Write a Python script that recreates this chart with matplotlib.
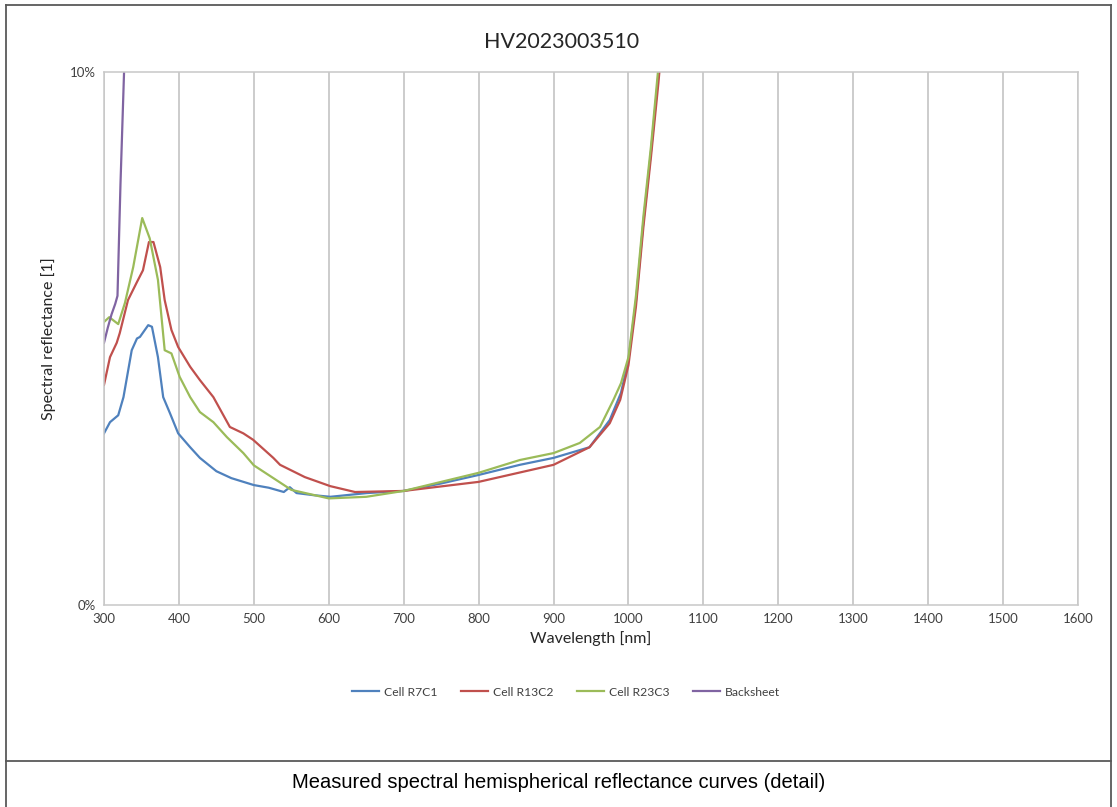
import numpy as np
import matplotlib as mpl
mpl.use('Agg')
import matplotlib.pyplot as plt
from matplotlib.lines import Line2D

plt.rcParams['font.family'] = ['Lato', 'DejaVu Sans']

# data (reflectance in %)
wl_r7c1 = [300, 308, 319, 326, 337, 344, 348, 359, 364, 372, 379, 388, 399, 415, 428,
           450, 470, 500, 520, 540, 548, 557, 580, 602, 651, 700, 750, 800, 855, 900,
           948, 975, 990, 1000, 1010, 1020, 1030, 1040, 1045]
r7c1 = [3.22, 3.43, 3.56, 3.9, 4.78, 5.0, 5.03, 5.25, 5.22, 4.65, 3.9, 3.6, 3.22, 2.96, 2.76,
        2.51, 2.38, 2.25, 2.2, 2.12, 2.21, 2.1, 2.06, 2.03, 2.1, 2.14, 2.28, 2.44, 2.63, 2.76,
        2.96, 3.47, 3.98, 4.6, 5.7, 7.2, 8.5, 9.95, 10.8]

wl_r13c2 = [300, 308, 317, 321, 332, 344, 352, 360, 366, 375, 381, 390, 399, 415, 428,
            446, 468, 486, 499, 526, 535, 568, 602, 635, 700, 800, 900, 948, 975, 989,
            1000, 1010, 1020, 1030, 1040, 1045]
r13c2 = [4.13, 4.65, 4.92, 5.1, 5.72, 6.06, 6.28, 6.81, 6.81, 6.34, 5.72, 5.16, 4.84, 4.47, 4.22,
         3.9, 3.34, 3.22, 3.1, 2.76, 2.63, 2.4, 2.23, 2.12, 2.14, 2.31, 2.63, 2.96, 3.41, 3.85,
         4.5, 5.6, 7.1, 8.4, 9.8, 10.6]

wl_r23c3 = [300, 307, 319, 328, 339, 351, 361, 372, 381, 390, 401, 415, 428, 446, 464,
            486, 500, 550, 600, 650, 700, 800, 855, 900, 935, 962, 980, 990, 1000, 1010,
            1020, 1030, 1040, 1045]
r23c3 = [5.31, 5.4, 5.27, 5.67, 6.34, 7.26, 6.88, 6.1, 4.78, 4.72, 4.28, 3.9, 3.62, 3.43, 3.15,
         2.85, 2.62, 2.16, 2.0, 2.03, 2.14, 2.48, 2.72, 2.85, 3.04, 3.34, 3.85, 4.16, 4.65, 5.8,
         7.3, 8.6, 10.1, 10.9]

wl_back = [300, 305, 310, 315, 318, 322, 327, 332]
back = [4.92, 5.2, 5.45, 5.65, 5.8, 7.9, 10.1, 12.3]

labels = ['Cell R7C1', 'Cell R13C2', 'Cell R23C3', 'Backsheet']
colors = ['#4F81BD', '#C0504D', '#9BBB59', '#8064A2']
xticks = list(range(300, 1601, 100))

W, H = 1117, 807
fig = plt.figure(figsize=(W / 100, H / 100), dpi=100)
ax = fig.add_axes([104 / W, 1 - 605 / H, (1078 - 104) / W, (605 - 72) / H])

series = [(wl_r7c1, r7c1), (wl_r13c2, r13c2), (wl_r23c3, r23c3), (wl_back, back)]
for (x, y), lab, c in zip(series, labels, colors):
    ax.plot(x, y, color=c, lw=1.6, label=lab, clip_on=True)

ax.set_xlim(300, 1600)
ax.set_ylim(0, 10)
ax.set_xticks(xticks)
ax.set_yticks([0, 10])
ax.set_yticklabels(['0%', '10%'])
ax.tick_params(length=0, labelsize=9.5, labelcolor='#404040', pad=6)
ax.grid(axis='x', color='#bfbfbf', lw=1.1)
ax.set_axisbelow(True)
for s in ax.spines.values():
    s.set_color('#c8c8c8')
    s.set_linewidth(1.1)

ax.set_xlabel('Wavelength [nm]', fontsize=11.5, color='#262626', labelpad=4)
ax.set_ylabel('Spectral reflectance [1]', fontsize=11.5, color='#262626', labelpad=10)

fig.text(562 / W, 1 - 42 / H, 'HV2023003510', ha='center', va='center',
         fontsize=15.5, color='#262626')

fig.legend(loc='center', bbox_to_anchor=(566 / W, 1 - 692 / H), ncol=4, frameon=False,
           fontsize=8.7, handlelength=2.2, columnspacing=2.0, handletextpad=0.4,
           labelcolor='#404040')

# outer frame and caption box
fc = '#595959'
for xs, ys in [([6, 1111], [5, 5]), ([6, 6], [5, 807]), ([1111, 1111], [5, 807]),
               ([6, 1111], [761, 761])]:
    fig.add_artist(Line2D([x / W for x in xs], [1 - y / H for y in ys],
                          color=fc, lw=1.3, transform=fig.transFigure))

fig.text(559 / W, 1 - 782 / H, 'Measured spectral hemispherical reflectance curves (detail)',
         ha='center', va='center', fontsize=14.5, family=['Liberation Sans', 'DejaVu Sans'],
         color='#000000')

fig.savefig('out.png', dpi=100)
